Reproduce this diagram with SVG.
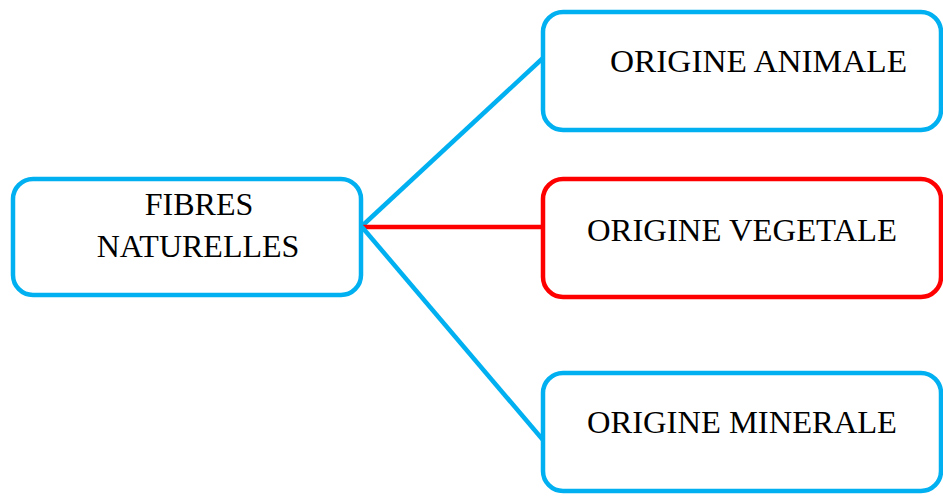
<svg xmlns="http://www.w3.org/2000/svg" width="943" height="496" viewBox="0 0 943 496">
<style>
.box{fill:#fff;stroke-width:4.5}
.blue{stroke:#00B0F0}
.red{stroke:#FF0000}
.conn{fill:none;stroke-width:4.5}
text{font-family:"Liberation Serif","Times New Roman",serif;font-size:32px;fill:#000}
</style>
<rect width="943" height="496" fill="#fff"/>
<g id="connectors">
<line class="conn blue" x1="362" y1="226" x2="543" y2="58"/>
<line class="conn red" x1="362" y1="227" x2="543" y2="227"/>
<line class="conn blue" x1="362" y1="227" x2="543" y2="440"/>
</g>
<g id="fibres">
<rect class="box blue" x="13" y="179" width="348" height="116" rx="20"/>
<text x="199" y="215" text-anchor="middle">FIBRES</text>
<text x="198" y="257" text-anchor="middle">NATURELLES</text>
</g>
<g id="animale">
<rect class="box blue" x="543" y="12" width="398" height="118" rx="20"/>
<text x="610" y="72" textLength="297" lengthAdjust="spacingAndGlyphs">ORIGINE ANIMALE</text>
</g>
<g id="vegetale">
<rect class="box red" x="543" y="179" width="398" height="118" rx="20"/>
<text x="587" y="241" textLength="310" lengthAdjust="spacingAndGlyphs">ORIGINE VEGETALE</text>
</g>
<g id="minerale">
<rect class="box blue" x="543" y="373" width="398" height="118" rx="20"/>
<text x="587" y="433" textLength="310" lengthAdjust="spacingAndGlyphs">ORIGINE MINERALE</text>
</g>
</svg>
